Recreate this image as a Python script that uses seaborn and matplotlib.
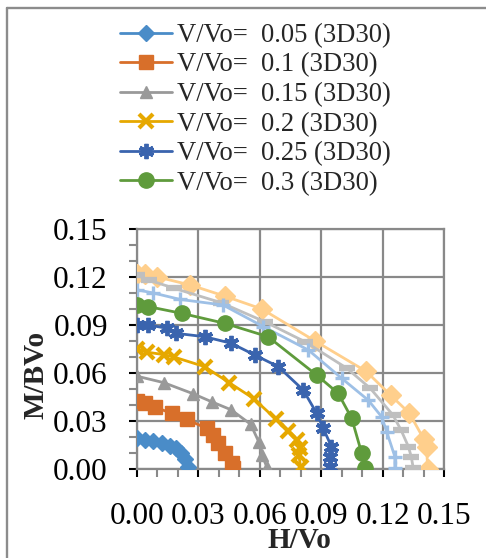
import matplotlib
matplotlib.use("Agg")
import matplotlib.pyplot as plt
from matplotlib.ticker import MultipleLocator, FormatStrFormatter
from matplotlib.lines import Line2D
import seaborn as sns

sns.set_style("white")
plt.rcParams["font.family"] = ["Liberation Serif", "DejaVu Serif"]

# Interaction curves H/Vo vs M/BVo for each vertical load ratio
labels = ["V/Vo=  0.05 (3D30)", "V/Vo=  0.1 (3D30)", "V/Vo=  0.15 (3D30)",
          "V/Vo=  0.2 (3D30)", "V/Vo=  0.25 (3D30)", "V/Vo=  0.3 (3D30)"]

h_005 = [0.000, 0.004, 0.008, 0.012, 0.016, 0.019, 0.0215, 0.0235, 0.025]
m_005 = [0.0195, 0.018, 0.0175, 0.016, 0.0145, 0.013, 0.010, 0.0065, 0.001]

h_010 = [0.000, 0.004, 0.0088, 0.017, 0.0243, 0.034, 0.0373, 0.0397, 0.043, 0.0462, 0.047]
m_010 = [0.0427, 0.041, 0.0386, 0.0348, 0.031, 0.0254, 0.021, 0.016, 0.0098, 0.0036, 0.0005]

h_015 = [0.000, 0.013, 0.0275, 0.0365, 0.046, 0.0555, 0.0595, 0.061, 0.0635]
m_015 = [0.058, 0.054, 0.047, 0.042, 0.037, 0.028, 0.017, 0.009, 0.001]

h_020 = [0.000, 0.005, 0.013, 0.018, 0.033, 0.045, 0.057, 0.068, 0.074, 0.078, 0.0795, 0.079, 0.080]
m_020 = [0.075, 0.073, 0.0715, 0.070, 0.064, 0.054, 0.044, 0.031, 0.024, 0.018, 0.013, 0.009, 0.001]

h_025 = [0.000, 0.0055, 0.0145, 0.019, 0.033, 0.046, 0.0576, 0.069, 0.0812, 0.0878, 0.091, 0.095, 0.0943, 0.0943]
m_025 = [0.090, 0.090, 0.088, 0.0848, 0.0827, 0.0786, 0.0712, 0.064, 0.0494, 0.0348, 0.0254, 0.014, 0.0077, 0.0014]

h_030 = [0.000, 0.0055, 0.0218, 0.043, 0.064, 0.0878, 0.0983, 0.1049, 0.1098, 0.1114]
m_030 = [0.1025, 0.1015, 0.0973, 0.091, 0.0827, 0.0587, 0.0473, 0.0317, 0.0098, 0.0004]

h_035 = [0.000, 0.008, 0.021, 0.042, 0.0617, 0.0837, 0.100, 0.113, 0.1195, 0.122, 0.126, 0.126]
m_035 = [0.112, 0.110, 0.106, 0.1025, 0.089, 0.0744, 0.0567, 0.043, 0.0327, 0.0233, 0.0077, 0.0004]

h_040 = [0.000, 0.006, 0.018, 0.041, 0.0625, 0.082, 0.1025, 0.114, 0.125, 0.129, 0.1326, 0.134, 0.135]
m_040 = [0.121, 0.118, 0.113, 0.104, 0.092, 0.0796, 0.063, 0.0504, 0.0338, 0.0244, 0.014, 0.0077, 0.0004]

h_045 = [0.000, 0.004, 0.010, 0.026, 0.043, 0.061, 0.087, 0.112, 0.124, 0.133, 0.140, 0.1415, 0.142]
m_045 = [0.122, 0.122, 0.120, 0.115, 0.108, 0.100, 0.080, 0.061, 0.046, 0.035, 0.019, 0.014, 0.000]

series = [(h_005, m_005), (h_010, m_010), (h_015, m_015), (h_020, m_020), (h_025, m_025),
          (h_030, m_030), (h_035, m_035), (h_040, m_040), (h_045, m_045)]

colors = ["#4a8cc8", "#d86f2a", "#999999", "#e6a800", "#3a64ae", "#5f9b3c",
          "#9ec0e6", "#bfbfbf", "#ffcf8c"]
markers = ["D", "s", "^", "x", (6, 2, 0), "o", "+", "_", "D"]
msizes = [8, 10.5, 9, 10.5, 11, 11, 10, 11, 10]
mews = [1, 1, 1, 3.0, 2.8, 1, 2.4, 4.5, 1]

W, H = 486, 558
fig = plt.figure(figsize=(W / 100, H / 100), dpi=100)
ax = fig.add_axes([137 / W, 1 - 469 / H, 307 / W, 240 / H])

handles = []
for i, ((hx, my), c, mk, ms, mew) in enumerate(zip(series, colors, markers, msizes, mews)):
    sns.lineplot(x=hx, y=my, ax=ax, sort=False, estimator=None, color=c, lw=2.0,
                 marker=mk, markersize=ms, markeredgewidth=mew,
                 markeredgecolor=c, markerfacecolor=c, zorder=3 + (9 - i))
    if i < 6:
        handles.append(Line2D([], [], color=c, lw=2.0, marker=mk, markersize=ms,
                              markeredgewidth=mew, markeredgecolor=c, markerfacecolor=c))

grid_c = "#898989"
ax.set_xlim(0, 0.15)
ax.set_ylim(0, 0.15)
ax.xaxis.set_major_locator(MultipleLocator(0.03))
ax.yaxis.set_major_locator(MultipleLocator(0.03))
ax.xaxis.set_minor_locator(MultipleLocator(0.01))
ax.yaxis.set_minor_locator(MultipleLocator(0.01))
ax.xaxis.set_major_formatter(FormatStrFormatter("%.2f"))
ax.yaxis.set_major_formatter(FormatStrFormatter("%.2f"))
ax.grid(True, which="major", color=grid_c, lw=1.6)
ax.set_axisbelow(True)
for s in ax.spines.values():
    s.set_color(grid_c)
    s.set_linewidth(1.6)
ax.tick_params(which="both", direction="out", length=6, width=1.5, color=grid_c,
               bottom=True, left=True)
ax.tick_params(axis="both", which="major", labelsize=22.5, colors="black")
ax.tick_params(axis="x", which="major", pad=18)
ax.tick_params(axis="y", which="major", pad=15)
for t in ax.get_xticklabels() + ax.get_yticklabels():
    t.set_color("black")
ax.set_xlabel("")
ax.set_ylabel("")

fig.text(299 / W, 1 - 541 / H, "H/Vo", ha="center", va="center",
         fontsize=21, fontweight="bold")
fig.text(36 / W, 1 - 375 / H, "M/BVo", ha="center", va="center",
         rotation=90, fontsize=21, fontweight="bold")

fig.legend(handles, labels, loc="upper left", bbox_to_anchor=(120 / W, 1 - 23 / H),
           frameon=False, fontsize=19.2, borderpad=0, borderaxespad=0,
           handlelength=1.95, handletextpad=0.17, labelspacing=0.17)

# outer chart border (left and top edges visible)
fig.add_artist(plt.Line2D([6.5 / W, 6.5 / W], [0, 1 - 7.8 / H], transform=fig.transFigure,
                          color="#8c8c8c", lw=1.7))
fig.add_artist(plt.Line2D([6.5 / W, 1], [1 - 7.8 / H, 1 - 7.8 / H], transform=fig.transFigure,
                          color="#8c8c8c", lw=1.7))

fig.savefig("out.png", dpi=100)
